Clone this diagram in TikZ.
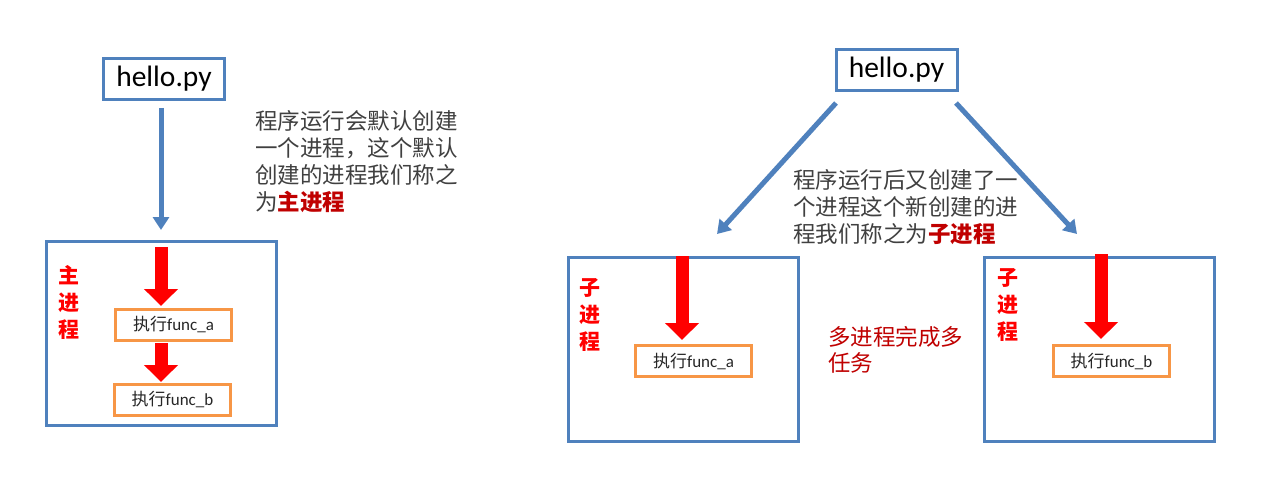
\documentclass[tikz,border=0pt]{standalone}
\usepackage{fontspec}
\setmainfont{Carlito}
\newfontfamily\cjk{Noto Sans CJK SC}
\usetikzlibrary{arrows.meta}
\definecolor{boxblue}{HTML}{4F81BD}
\definecolor{boxorange}{HTML}{F79646}
\definecolor{txtgray}{HTML}{404040}
\definecolor{darkred}{HTML}{C00000}
\definecolor{brightred}{HTML}{FF0000}
\tikzset{
  filebox/.style={draw=boxblue,line width=3pt,inner sep=0pt,minimum width=121pt,minimum height=41pt,font=\fontsize{29.5}{31}\selectfont},
  procbox/.style={draw=boxblue,line width=3pt,inner sep=0pt,minimum width=230pt,minimum height=184pt},
  funcbox/.style={draw=boxorange,line width=3pt,inner sep=0pt,minimum width=116pt,minimum height=31pt,text=black!85,font=\fontsize{17}{19}\selectfont},
  bluearrow/.style={draw=boxblue,line width=5pt,-{Triangle[width=16pt,length=13pt]}},
  redarrow/.style={draw=brightred,line width=13pt,-{Triangle[width=33pt,length=17pt]}},
  note/.style={anchor=west,align=left,text=txtgray,font=\cjk\fontsize{22.5}{27}\selectfont,inner sep=0pt},
  rednote/.style={anchor=west,align=left,text=darkred,font=\cjk\fontsize{22.5}{26}\selectfont,inner sep=0pt},
  vlabel/.style={align=center,text=brightred,font=\cjk\bfseries\fontsize{21}{27}\selectfont,inner sep=0pt}
}
\begin{document}
\begin{tikzpicture}[x=1pt,y=-1pt]
\useasboundingbox (0,0) rectangle (1265,481);
\fill[white] (0,0) rectangle (1265,481);

% ---------- left part ----------
\node[filebox] (hello1) at (164,79) {hello.py};
\node[procbox] (main) at (161.5,333) {};
\node[funcbox] (fa1) at (173.5,324.5) {{\cjk 执行}func\_a};
\node[funcbox] (fb1) at (172.5,399.5) {{\cjk 执行}func\_b};
\node[vlabel] (mainlbl) at (69,302) {主\\进\\程};
\node[note] (note1) at (255,162) {程序运行会默认创建\\一个进程，这个默认\\创建的进程我们称之\\为{\bfseries\color{darkred}主进程}};

\coordinate (a1s) at (161,108);
\coordinate (a1e) at (161,230);
\draw[bluearrow] (a1s) -- (a1e);
\coordinate (r1s) at (161,247);
\coordinate (r1e) at (161,306);
\draw[redarrow] (r1s) -- (r1e);
\coordinate (r2s) at (161,343);
\coordinate (r2e) at (161,382);
\draw[redarrow] (r2s) -- (r2e);

% ---------- right part ----------
\node[filebox] (hello2) at (896.5,70) {hello.py};
\node[procbox] (child1) at (683.5,349) {};
\node[procbox] (child2) at (1099.5,349) {};
\node[funcbox] (fa2) at (693.5,361) {{\cjk 执行}func\_a};
\node[funcbox] (fb2) at (1111.5,361) {{\cjk 执行}func\_b};
\node[vlabel] (sub1lbl) at (590,315) {子\\进\\程};
\node[vlabel] (sub2lbl) at (1008,305) {子\\进\\程};
\node[note] (note2) at (793,207) {程序运行后又创建了一\\个进程这个新创建的进\\程我们称之为{\bfseries\color{darkred}子进程}};
\node[rednote] (note3) at (828,350) {多进程完成多\\任务};

\coordinate (b1s) at (836,103);
\coordinate (b1e) at (717,234);
\draw[bluearrow] (b1s) -- (b1e);
\coordinate (b2s) at (956,103);
\coordinate (b2e) at (1077,234);
\draw[bluearrow] (b2s) -- (b2e);
\coordinate (r3s) at (682,256);
\coordinate (r3e) at (682,340);
\draw[redarrow] (r3s) -- (r3e);
\coordinate (r4s) at (1101,254);
\coordinate (r4e) at (1101,339);
\draw[redarrow] (r4s) -- (r4e);
\end{tikzpicture}
\end{document}
